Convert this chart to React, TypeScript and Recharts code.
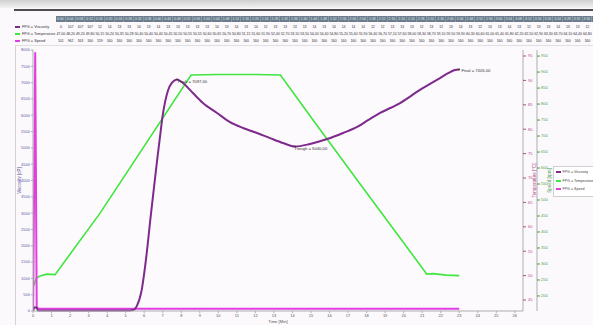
import React from "react";
import { LineChart, Line, XAxis, YAxis, CartesianGrid, ReferenceDot } from "recharts";

// viscosity curve (cP) on the left axis
const viscTime = [0, 0.07, 0.13, 0.2, 0.27, 0.5, 1, 2, 3, 4, 5, 5.4, 5.6, 5.85, 6.1, 6.35, 6.55, 6.7, 6.85, 7.0, 7.28, 7.5, 7.77, 8.09, 8.63, 9.17, 9.93, 10.63, 11.33, 12.09, 12.79, 13.49, 14.14, 14.95, 15.87, 16.73, 17.49, 18.08, 18.73, 19.81, 20.88, 21.96, 22.4, 22.77, 23.0];
const viscValue = [0, 107, 107, 107, 12, 14, 13, 13, 14, 13, 14, 30, 150, 600, 1600, 2900, 3900, 4630, 5330, 6000, 6750, 7000, 7097, 6990, 6680, 6375, 6070, 5790, 5610, 5455, 5300, 5150, 5040, 5120, 5270, 5455, 5640, 5850, 6070, 6375, 6775, 7140, 7290, 7390, 7405];

// temperature (°C)
const tempTime = [0, 0.19, 0.38, 0.74, 1.19, 3.62, 8.53, 10, 12, 13.35, 15.11, 17.49, 19.5, 21.25, 21.6, 22.3, 23.0];
const tempValue = [47.6, 49.5, 49.9, 50.3, 50.2, 62.8, 91.1, 91.2, 91.2, 91.1, 81.9, 69.6, 59.3, 50.3, 50.4, 50.1, 50.0];

// speed (rpm)
const speedTime = [0, 0.12, 0.2, 0.3, 23.0];
const speedValue = [101, 962, 163, 160, 160];

const timeTicks = [0, 1, 2, 3, 4, 5, 6, 7, 8, 9, 10, 11, 12, 13, 14, 15, 16, 17, 18, 19, 20, 21, 22, 23, 24, 25, 26];
const viscTicks = [0, 500, 1000, 1500, 2000, 2500, 3000, 3500, 4000, 4500, 5000, 5500, 6000, 6500, 7000, 7500, 8000];
const tempTicks = [45, 50, 55, 60, 65, 70, 75, 80, 85, 90, 95];
const speedTicks = [200, 250, 300, 350, 400, 450, 500, 550, 600, 650, 700, 750, 800, 850, 900, 950];

// grid above the chart
const tableTimes = ["0:00", "0:04", "0:08", "0:12", "0:16", "0:20", "0:24", "0:28", "0:32", "0:36", "0:40", "0:44", "0:48", "0:52", "0:56", "1:00", "1:04", "1:08", "1:12", "1:16", "1:20", "1:24", "1:28", "1:32", "1:36", "1:40", "1:44", "1:48", "1:52", "1:56", "2:00", "2:04", "2:08", "2:12", "2:16", "2:20", "2:24", "2:28", "2:32", "2:36", "2:40", "2:44", "2:48", "2:52", "2:56", "3:00", "3:04", "3:08", "3:12", "3:16", "3:20", "3:24", "3:28", "3:32", "3:36"];
const tableVisc = [0, 107, 107, 107, 12, 14, 13, 13, 14, 13, 14, 13, 13, 13, 13, 13, 14, 13, 14, 13, 14, 12, 13, 13, 13, 13, 14, 13, 14, 14, 14, 14, 12, 12, 13, 13, 13, 12, 13, 12, 13, 14, 13, 12, 13, 13, 14, 13, 12, 13, 13, 14, 13, 13, 12];
const tableTemp = [47.0, 48.2, 49.2, 49.8, 50.15, 50.2, 50.35, 50.28, 50.4, 50.4, 50.4, 50.45, 50.5, 50.55, 50.55, 50.6, 50.65, 50.7, 50.8, 51.15, 51.6, 51.9, 52.4, 52.7, 53.1, 53.5, 54.0, 54.4, 54.8, 55.2, 55.6, 55.9, 56.4, 56.7, 57.1, 57.6, 58.0, 58.3, 58.7, 59.1, 59.5, 59.9, 60.3, 60.6, 61.0, 61.4, 61.8, 62.2, 62.5, 62.9, 63.3, 63.7, 64.1, 64.4, 64.8];
const tableSpeed = [101, 962, 163, 160, 159, 160, 160, 160, 160, 160, 160, 160, 160, 160, 160, 160, 160, 160, 160, 160, 160, 160, 160, 160, 160, 160, 160, 160, 160, 160, 160, 160, 160, 160, 160, 160, 160, 160, 160, 160, 160, 160, 160, 160, 160, 160, 160, 160, 160, 160, 160, 160, 160, 160, 160];

const VISC = "#7e2a8c";
const TEMP = "#3ee63e";
const SPEED = "#e23de2";
const FONT = "'Liberation Sans', Arial, sans-serif";

const toPoints = (ts: number[], vs: number[]) => ts.map((t, i) => ({ t, v: vs[i] }));

const axisTitle = (text: string, dx: number, color: string) => (props: any) => {
  const { x, y, height } = props.viewBox;
  const cx = x + dx;
  const cy = y + height / 2;
  return (
    <text x={cx} y={cy} transform={`rotate(-90 ${cx} ${cy})`} textAnchor="middle" dominantBaseline="central" fontSize={4.5} fill={color}>
      {text}
    </text>
  );
};

const pointNote = (text: string, dx: number, dy: number) => (props: any) => {
  const { x, y } = props.viewBox;
  return (
    <text x={x + dx} y={y + dy} fontSize={4.2} fill="#333">
      {text}
    </text>
  );
};

const fmt = (n: number) => n.toFixed(2).replace(".", ",");

function DataGrid() {
  const colW = (593 - 56) / tableTimes.length;
  const rows = [
    { name: "FPG = Viscosity", color: VISC, cells: tableVisc.map(String) },
    { name: "FPG = Temperature", color: TEMP, cells: tableTemp.map(fmt) },
    { name: "FPG = Speed", color: SPEED, cells: tableSpeed.map(String) },
  ];
  const cell: React.CSSProperties = { width: colW, flex: "none", textAlign: "center", overflow: "hidden", whiteSpace: "nowrap" };
  return (
    <div style={{ position: "absolute", left: 0, top: 0, width: 593, height: 45, fontFamily: FONT }}>
      <div style={{ height: 8, background: "linear-gradient(#cfcfcf, #f2f2f2)" }} />
      <div style={{ position: "absolute", left: 14, top: 9, right: 0, height: 2, background: "#4d4d4d" }} />
      <div style={{ position: "absolute", left: 56, top: 16, right: 0, height: 6, background: "#6c7c8c", display: "flex", fontSize: 3.4, lineHeight: "6px", color: "#dfe7ee" }}>
        {tableTimes.map((t, i) => (
          <div key={i} style={{ ...cell, borderRight: "1px solid #8797a6", boxSizing: "border-box" }}>{t}</div>
        ))}
      </div>
      {rows.map((r, ri) => (
        <div key={r.name} style={{ position: "absolute", left: 15, top: 23 + ri * 7, right: 0, height: 7, display: "flex", alignItems: "center", fontSize: 3.6, color: "#333" }}>
          <div style={{ width: 41, flex: "none", display: "flex", alignItems: "center" }}>
            <span style={{ width: 5, height: 2, background: r.color, marginRight: 2, display: "inline-block" }} />
            <span style={{ fontSize: 3.8 }}>{r.name}</span>
          </div>
          {r.cells.map((c, i) => (
            <div key={i} style={cell}>{c}</div>
          ))}
        </div>
      ))}
    </div>
  );
}

function ChartLegend() {
  const items = [
    { name: "FPG = Viscosity", color: VISC },
    { name: "FPG = Temperature", color: TEMP },
    { name: "FPG = Speed", color: SPEED },
  ];
  return (
    <div style={{ position: "absolute", left: 553, top: 166, width: 39, height: 29, border: "1px solid #cfcfcf", borderRight: "none", background: "#ffffff", fontFamily: FONT, fontSize: 3.6, color: "#444" }}>
      {items.map((it, i) => (
        <div key={it.name} style={{ position: "absolute", left: 2, top: 3 + i * 8.5, display: "flex", alignItems: "center", whiteSpace: "nowrap" }}>
          <span style={{ width: 5, height: 2, background: it.color, marginRight: 1.5, display: "inline-block" }} />
          {it.name}
        </div>
      ))}
    </div>
  );
}

export default function App() {
  return (
    <div style={{ position: "absolute", left: 0, top: 0, width: 593, height: 325, background: "#fcf9fc", overflow: "hidden" }}>
      <DataGrid />
      <div style={{ position: "absolute", left: 15, top: 45, width: 578, height: 280, borderLeft: "1px solid #d4d4d4", borderTop: "1px solid #e0e0e0" }} />
      <LineChart width={593} height={280} margin={{ top: 5, right: 40, bottom: 0, left: 0 }} style={{ position: "absolute", left: 0, top: 45, fontFamily: FONT }}>
        <CartesianGrid horizontal={false} vertical={false} fill="#fdfafd" />
        <XAxis
          dataKey="t"
          type="number"
          domain={[0, 26.44]}
          ticks={timeTicks}
          interval={0}
          allowDataOverflow
          height={14}
          tickSize={2}
          tickMargin={1}
          tick={{ fontSize: 4, fill: "#555" }}
          axisLine={{ stroke: "#adadad" }}
          tickLine={{ stroke: "#adadad" }}
          label={(props: any) => {
            const { x, y, width } = props.viewBox;
            return (
              <text x={x + width / 2} y={y + 11.5} textAnchor="middle" fontSize={4.2} fill="#555">
                Time [Min]
              </text>
            );
          }}
        />
        <XAxis xAxisId="top" orientation="top" type="number" domain={[0, 26.44]} height={0} tick={false} tickLine={false} axisLine={{ stroke: "#c4c4c4" }} />
        <YAxis
          yAxisId="visc"
          domain={[0, 8000]}
          ticks={viscTicks}
          interval={0}
          width={33}
          tickSize={2}
          tickMargin={1}
          tick={{ fontSize: 4, fill: "#5a5aa2" }}
          axisLine={{ stroke: "#adadad" }}
          tickLine={{ stroke: "#adadad" }}
          label={axisTitle("Viscosity [cP]", 19, "#5a5aa2")}
        />
        <YAxis
          yAxisId="a_temp"
          orientation="right"
          domain={[42.75, 96.23]}
          ticks={tempTicks}
          interval={0}
          width={14}
          tickSize={3}
          tickMargin={2}
          tick={{ fontSize: 4, fill: "#b04c8c" }}
          axisLine={{ stroke: "#adadad" }}
          tickLine={{ stroke: "#b04c8c" }}
          label={axisTitle("Temperature [°C]", 11.5, "#b04c8c")}
        />
        <YAxis
          yAxisId="b_speed"
          orientation="right"
          domain={[153, 969]}
          ticks={speedTicks}
          interval={0}
          allowDataOverflow
          width={16}
          tickSize={3}
          tickMargin={1}
          tick={{ fontSize: 4, fill: "#4c9a4c" }}
          axisLine={{ stroke: "#adadad" }}
          tickLine={{ stroke: "#4c9a4c" }}
          label={axisTitle("Speed [rpm]", 12.5, "#4c9a4c")}
        />
        <Line yAxisId="a_temp" data={toPoints(tempTime, tempValue)} dataKey="v" name="FPG = Temperature" type="linear" stroke={TEMP} strokeWidth={1.6} dot={false} isAnimationActive={false} />
        <Line yAxisId="b_speed" data={toPoints(speedTime, speedValue)} dataKey="v" name="FPG = Speed" type="linear" stroke={SPEED} strokeWidth={2} dot={false} isAnimationActive={false} />
        <Line yAxisId="visc" data={toPoints(viscTime, viscValue)} dataKey="v" name="FPG = Viscosity" type="monotone" stroke={VISC} strokeWidth={2} dot={false} isAnimationActive={false} />
        <ReferenceDot yAxisId="visc" x={7.77} y={7097} r={0.8} fill="#333" stroke="none" label={pointNote("Peak = 7097,00", 1.5, 4.5)} />
        <ReferenceDot yAxisId="visc" x={14.14} y={5040} r={0.8} fill="#333" stroke="none" label={pointNote("Trough = 5040,00", 0, 4.5)} />
        <ReferenceDot yAxisId="visc" x={23.0} y={7405} r={0.8} fill="#333" stroke="none" label={pointNote("Final = 7405,00", 3, 3.5)} />
      </LineChart>
      <ChartLegend />
    </div>
  );
}
